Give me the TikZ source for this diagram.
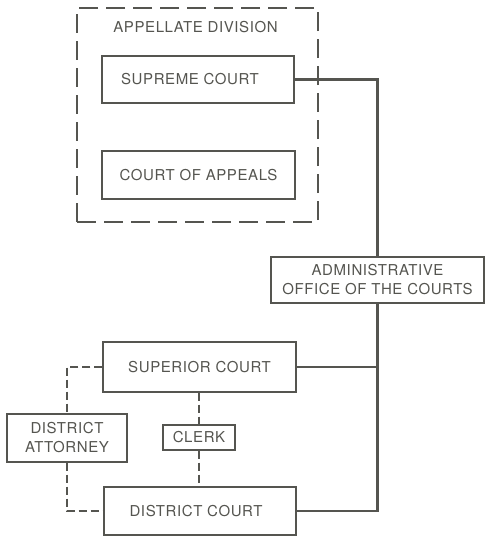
\documentclass[tikz,border=0pt]{standalone}
\usepackage{fontspec}
\setmainfont{TeX Gyre Heros}[LetterSpace=4]
\definecolor{ink}{HTML}{555550}
\begin{document}
\begin{tikzpicture}[x=1pt,y=-1pt,
  every node/.style={text=ink,font=\fontsize{15}{19}\selectfont,inner sep=0pt,align=center},
  courtbox/.style={draw=ink,line width=1.3pt,rectangle},
  solidlink/.style={draw=ink,line width=2.2pt},
  dashlink/.style={draw=ink,line width=1.8pt,dash pattern=on 8pt off 4pt},
  groupbox/.style={draw=ink,line width=1.4pt,dash pattern=on 19pt off 8pt}]
\useasboundingbox (0,0) rectangle (487,536);
\fill[white] (0,0) rectangle (487,536);
% appellate division group
\node[groupbox,minimum width=241pt,minimum height=214pt] (appdiv) at (197.5,115) {};
\node (applabel) at (195.5,27) {APPELLATE DIVISION};
\node[courtbox,minimum width=192pt,minimum height=47pt] (supreme) at (198,79.5) {SUPREME COURT\hspace{16pt}};
\node[courtbox,minimum width=193pt,minimum height=48pt] (appeals) at (198.5,175) {COURT OF APPEALS};
% administrative office
\node[courtbox,minimum width=213pt,minimum height=46pt] (admin) at (377.5,280) {ADMINISTRATIVE\\OFFICE OF THE COURTS};
% trial courts
\node[courtbox,minimum width=193pt,minimum height=50pt] (superior) at (199.5,367) {SUPERIOR COURT};
\node[courtbox,minimum width=192pt,minimum height=48pt] (district) at (200,511) {DISTRICT COURT\hspace{8pt}};
\node[courtbox,minimum width=120pt,minimum height=48pt] (da) at (67,438) {DISTRICT\\ATTORNEY};
\node[courtbox,minimum width=72pt,minimum height=25pt] (clerk) at (199,437.5) {CLERK};
% solid connectors
\draw[solidlink] (supreme.east) -| (admin.north);
\draw[solidlink] (admin.south) |- (district.east);
\draw[solidlink] (superior.east) -- (admin.south |- superior.east);
% dashed connectors
\draw[dashlink] (superior.west) -| (da.north);
\draw[dashlink] (da.south) |- (district.west);
\draw[dashlink] (clerk.north |- superior.south) -- (clerk.north);
\draw[dashlink] (clerk.south) -- (clerk.south |- district.north);
\end{tikzpicture}
\end{document}
